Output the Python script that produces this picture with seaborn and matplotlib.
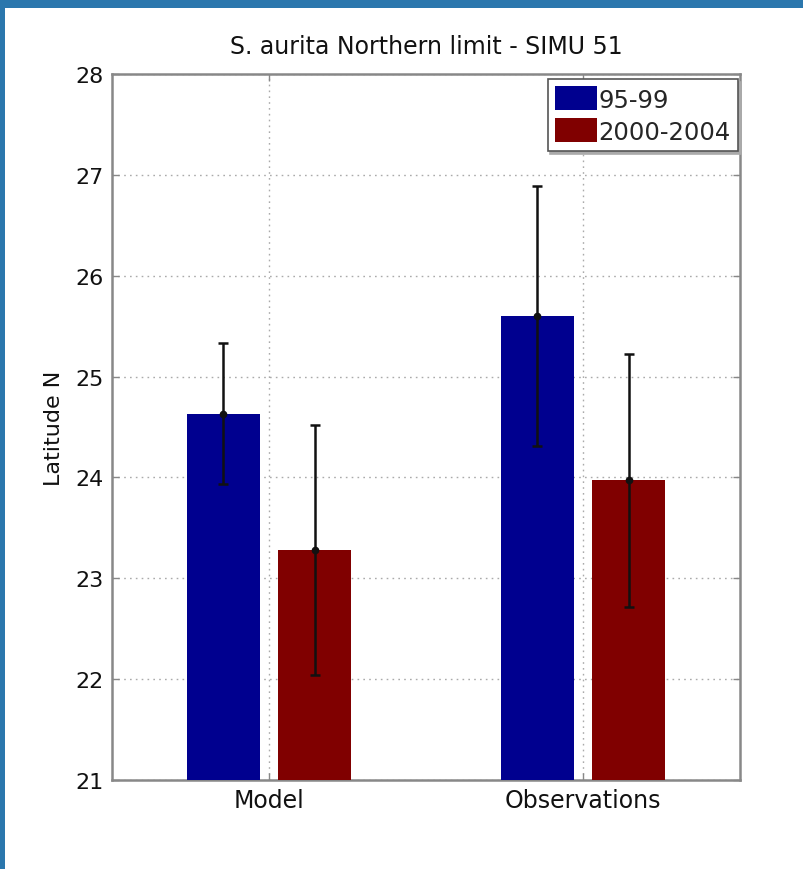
import matplotlib
matplotlib.use("Agg")
import matplotlib.pyplot as plt
import seaborn as sns
import pandas as pd
from matplotlib.patches import Rectangle

# ---- data ----
groups = ["Model", "Observations"]
periods = ["95-99", "2000-2004"]
means_9599 = [24.63, 25.60]
means_0004 = [23.28, 23.97]
err_9599 = [0.70, 1.29]
err_0004 = [1.24, 1.25]
yticks = [21, 22, 23, 24, 25, 26, 27, 28]
title = "S. aurita Northern limit - SIMU 51"
ylabel = "Latitude N"

df = pd.DataFrame({
    "group": groups * 2,
    "period": [periods[0]] * 2 + [periods[1]] * 2,
    "value": means_9599 + means_0004,
})
errs = {periods[0]: err_9599, periods[1]: err_0004}

sns.set_theme(style="white")
plt.rcParams["font.family"] = ["DejaVu Sans"]

fig = plt.figure(figsize=(8.04, 8.70), dpi=100)
fig.patch.set_facecolor("#2b77ad")
fig.add_artist(Rectangle((5 / 804, 0), 1, 1 - 9 / 870, transform=fig.transFigure,
                         facecolor="white", edgecolor="none", zorder=-10))

ax = fig.add_axes([112 / 804, 1 - 781 / 870, 628 / 804, 706 / 870])
blue = "#00008f"
red = "#800000"
sns.barplot(data=df, x="group", y="value", hue="period", order=groups,
            hue_order=periods, palette=[blue, red], width=0.58, gap=0.2,
            saturation=1, errorbar=None, linewidth=0, ax=ax, zorder=3)

for cont, per in zip(ax.containers, periods):
    xs = [p.get_x() + p.get_width() / 2 for p in cont.patches]
    ys = [p.get_height() for p in cont.patches]
    ax.errorbar(xs, ys, yerr=errs[per], fmt=".", color="#111111", ecolor="#111111",
                elinewidth=1.8, capsize=3.5, capthick=1.8, markersize=9, zorder=5)

ax.set_ylim(21, 28)
ax.set_xlim(-0.5, 1.5)
ax.set_yticks(yticks)
ax.set_yticklabels([str(t) for t in yticks])
ax.set_xlabel("")
ax.set_ylabel(ylabel, fontsize=16, labelpad=8, color="#111111")
ax.set_title(title, fontsize=17, pad=15, color="#111111")

ax.grid(True, axis="both", linestyle=(0, (1.2, 3)), color="#aaaaaa", linewidth=1.0, zorder=0)
ax.set_axisbelow(True)
for s in ax.spines.values():
    s.set_color("#888888")
    s.set_linewidth(1.8)
ax.tick_params(axis="both", direction="in", length=5, width=1, color="#888888",
               labelsize=16, labelcolor="#111111", left=True, right=True,
               top=True, bottom=True, pad=6)
ax.tick_params(axis="x", labelsize=17)

handles, labels = ax.get_legend_handles_labels()
leg = ax.legend(handles, labels, loc="upper right", bbox_to_anchor=(0.997, 0.993),
                borderaxespad=0, fontsize=17.5, frameon=True, fancybox=False,
                handlelength=1.75, handleheight=1.15, handletextpad=0.05,
                labelspacing=0.28, borderpad=0.3, edgecolor="#555555",
                shadow={"color": "#aaaaaa", "alpha": 1, "ox": 2, "oy": -2})
leg.get_frame().set_linewidth(1.2)

fig.savefig("out.png", dpi=100, facecolor=fig.get_facecolor())
